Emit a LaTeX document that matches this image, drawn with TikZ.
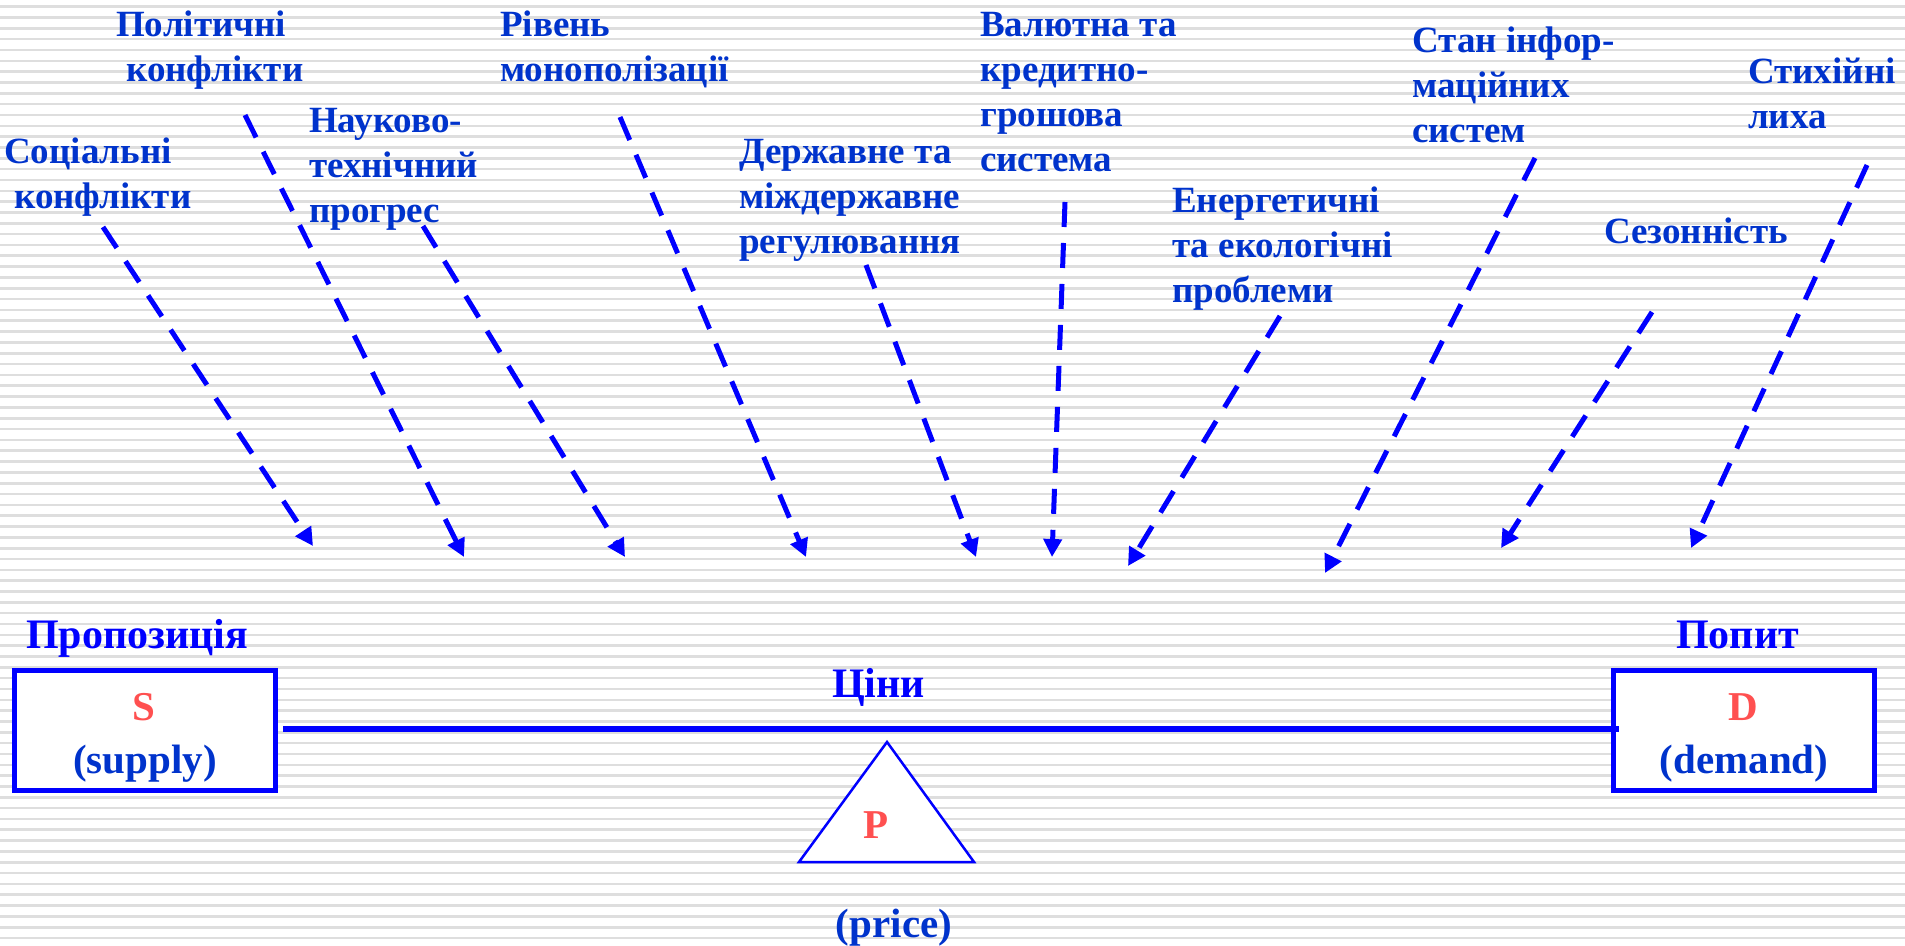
\documentclass[tikz,border=0pt]{standalone}
\usepackage{fontspec}
\setmainfont{Liberation Serif}
\usetikzlibrary{arrows.meta}
\definecolor{txtblue}{RGB}{0,51,204}
\definecolor{brblue}{RGB}{0,0,255}
\definecolor{sred}{RGB}{255,80,80}
\definecolor{stripegray}{RGB}{222,222,222}
\tikzset{
  lbl/.style={inner sep=0pt, anchor=base west, align=left, text=txtblue,
    font=\fontsize{37}{45}\selectfont\bfseries},
  hdr/.style={inner sep=0pt, anchor=base west, text=brblue,
    font=\fontsize{42}{50}\selectfont\bfseries},
  boxtxt/.style={inner sep=0pt, anchor=base, text=txtblue,
    font=\fontsize{41}{50}\selectfont\bfseries},
  redtxt/.style={inner sep=0pt, anchor=base, text=sred,
    font=\fontsize{41}{50}\selectfont\bfseries},
  marketbox/.style={draw=brblue, line width=5pt, fill=white,
    minimum width=261pt, minimum height=120pt, inner sep=0pt},
  dasharrow/.style={draw=brblue, line width=5pt, dash pattern=on 25pt off 16pt,
    -{Triangle[length=18pt,width=18pt]}},
  mainline/.style={draw=brblue, line width=6pt},
  tri/.style={draw=brblue, line width=2.5pt, fill=white, line join=miter},
  stripe/.style={draw=stripegray, line width=2.6pt}
}
\begin{document}
\begin{tikzpicture}[x=1pt,y=-1pt]
\useasboundingbox (0,0) rectangle (1905,945);
\fill[white] (0,0) rectangle (1905,945);
\foreach \i in {0,...,87} {
  \draw[stripe] (0,{6.7+\i*10.83}) -- (1905,{6.7+\i*10.83});
}
% labels (anchored at the baseline of the last line)
\node[lbl] (pol) at (116,81) {Політичні\\\hspace*{10pt}конфлікти};
\node[lbl] (soc) at (4,208) {Соціальні\\\hspace*{10pt}конфлікти};
\node[lbl] (nauk) at (309,222) {Науково-\\технічний\\прогрес};
\node[lbl] (riv) at (500,81) {Рівень\\монополізації};
\node[lbl] (derzh) at (739,253) {Державне та\\міждержавне\\регулювання};
\node[lbl] (val) at (980,171) {Валютна та\\кредитно-\\грошова\\система};
\node[lbl] (energ) at (1172,302) {Енергетичні\\та екологічні\\проблеми};
\node[lbl] (stan) at (1412,142) {Стан інфор-\\маційних\\систем};
\node[lbl] (styh) at (1748,128) {Стихійні\\лиха};
\node[lbl] (sez) at (1604,243) {Сезонність};
% arrow coordinates
\coordinate (a1s) at (103,227);  \coordinate (a1e) at (313,546);
\coordinate (a2s) at (245,115);  \coordinate (a2e) at (464,557);
\coordinate (a3s) at (423,226);  \coordinate (a3e) at (625,557);
\coordinate (a4s) at (620,117);  \coordinate (a4e) at (806,557);
\coordinate (a5s) at (866,265);  \coordinate (a5e) at (976,557);
\coordinate (a6s) at (1065,202); \coordinate (a6e) at (1052,557);
\coordinate (a7s) at (1280,316); \coordinate (a7e) at (1128,566);
\coordinate (a8s) at (1535,158); \coordinate (a8e) at (1325,573);
\coordinate (a9s) at (1652,312); \coordinate (a9e) at (1501,548);
\coordinate (a10s) at (1867,165); \coordinate (a10e) at (1691,548);
\foreach \k in {1,...,10} { \draw[dasharrow] (a\k s) -- (a\k e); }
% market
\node[hdr] (prop) at (26,648) {Пропозиція};
\node[hdr] (popyt) at (1676,648) {Попит};
\node[marketbox] (sbox) at (145,730.5) {};
\node[marketbox] (dbox) at (1744,730.5) {};
\draw[mainline] ([xshift=5pt,yshift=1.5pt]sbox.east) -- ([xshift=8pt,yshift=1.5pt]dbox.west);
\node[hdr] (tsiny) at (832,697) {Ціни};
\node[redtxt] (s) at (144,720) {S};
\node[boxtxt] (supply) at (145,773) {(supply)};
\node[redtxt] (d) at (1743,720) {D};
\node[boxtxt] (demand) at (1744,773) {(demand)};
\coordinate (tapex) at (887,742);
\coordinate (tleft) at (799,862);
\coordinate (tright) at (974,862);
\draw[tri] (tapex) -- (tleft) -- (tright) -- cycle;
\node[redtxt] (p) at (876,838) {P};
\node[boxtxt] (price) at (894,937) {(price)};
\end{tikzpicture}
\end{document}
